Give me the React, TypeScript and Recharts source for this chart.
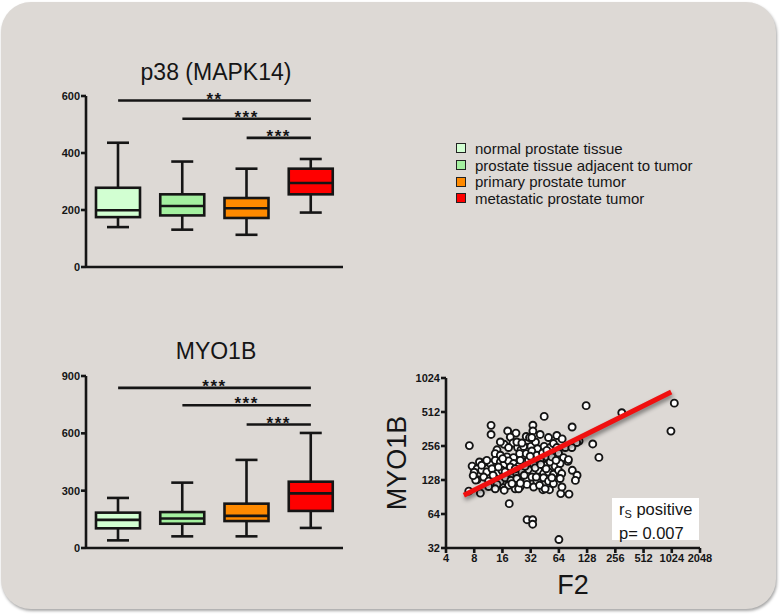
import React from "react";
import {
  ComposedChart,
  Bar,
  XAxis,
  YAxis,
  ReferenceLine,
  Legend,
  ScatterChart,
  Scatter,
} from "recharts";

const GROUPS = [
  "normal prostate tissue",
  "prostate tissue adjacent to tumor",
  "primary prostate tumor",
  "metastatic prostate tumor",
];

const GROUP_COLORS = ["#d2ffd2", "#a4f0a0", "#ff8a00", "#ff0000"];

// p38 (MAPK14) box plot: whisker min, Q1, median, Q3, whisker max
const P38_MIN = [140, 131, 113, 191];
const P38_Q1 = [175, 181, 172, 255];
const P38_MEDIAN = [199, 214, 206, 295];
const P38_Q3 = [278, 255, 242, 345];
const P38_MAX = [436, 370, 345, 379];
const P38_TICKS = [0, 200, 400, 600];
const P38_SIG = [
  { from: 0, to: 3, y: 584, stars: "**" },
  { from: 1, to: 3, y: 520, stars: "***" },
  { from: 2, to: 3, y: 453, stars: "***" },
];

// MYO1B box plot
const MYO_MIN = [40, 61, 61, 105];
const MYO_Q1 = [103, 127, 141, 194];
const MYO_MEDIAN = [147, 154, 168, 286];
const MYO_Q3 = [185, 188, 232, 347];
const MYO_MAX = [262, 342, 461, 602];
const MYO_TICKS = [0, 300, 600, 900];
const MYO_SIG = [
  { from: 0, to: 3, y: 838, stars: "***" },
  { from: 1, to: 3, y: 747, stars: "***" },
  { from: 2, to: 3, y: 646, stars: "***" },
];

// scatter: [F2, MYO1B]
const F2_MYO1B: Array<[number, number]> = [
  [7.1, 258], [7.0, 102], [7.6, 170], [9.3, 98], [12.1, 390], [12.1, 324],
  [18.9, 79], [29.3, 57], [33.6, 57], [33.6, 52], [64, 38], [44.6, 468],
  [88.6, 377], [125, 583], [300, 505], [1090, 613], [1003, 347], [147, 267],
  [171, 203], [105, 283], [99, 275], [89, 156], [100, 141], [96, 127],
  [80, 187], [67, 97], [82, 96], [69, 111], [50.8, 105], [43.2, 105],
  [18.2, 348], [22.3, 333], [19.4, 307], [28.7, 311], [31.1, 304], [33.8, 391],
  [33.8, 348], [40.4, 324], [49.6, 304], [60.8, 317], [69.3, 296],
  [16.7, 265], [14.0, 237], [20.7, 272], [23.2, 248], [25.2, 237], [29.2, 248],
  [32.2, 254], [36.0, 278], [37.9, 242], [44.6, 254], [51.6, 248], [56, 269],
  [60.8, 248], [75, 248], [88, 248],
  [13.4, 219], [15.2, 212], [17.9, 205], [21, 202], [24.4, 219], [28.7, 219],
  [32.9, 231], [37.3, 212], [42.8, 222], [47.6, 205], [56, 212], [63.4, 222],
  [71.6, 202], [80.9, 194],
  [9.1, 185], [10.5, 185], [11.9, 179], [13.4, 191], [15.2, 185], [16.4, 173],
  [18.6, 189], [21, 179], [23.8, 169], [26.9, 185], [30.4, 191], [34.4, 176],
  [40.4, 191], [45.7, 173], [51.6, 185], [58.4, 169], [66, 179],
  [8.6, 161], [9.6, 156], [10.9, 151], [12.4, 161], [14, 146], [15.8, 156],
  [17.9, 148], [20.2, 156], [22.8, 144], [25.8, 151], [30.4, 158], [34.4, 146],
  [38.8, 156], [43.9, 146], [49.6, 151], [56, 144], [63.4, 156], [68.6, 146],
  [8.6, 129], [10.1, 136], [11.4, 125], [13.4, 132], [15.2, 125], [17.1, 134],
  [19.7, 127], [22.8, 132], [25.8, 123], [29.2, 129], [32.9, 136], [37.3, 125],
  [43.9, 134], [49.6, 125], [56, 119], [66, 132],
  [11.4, 112], [14, 117], [16.4, 109], [18.6, 115], [21.9, 107], [24.8, 112],
  [29.2, 117], [34.4, 111], [39.8, 115], [45.7, 107], [13.4, 107], [16.7, 104],
  [23.8, 107], [24.8, 120],
  [9.6, 173], [10.9, 191], [12.7, 141], [14.5, 167], [16.1, 198], [17.1, 151],
  [19.4, 167], [20.2, 119], [21.9, 161], [24.8, 191], [27.3, 141], [27.9, 169],
  [31.6, 208], [35.7, 164], [36.7, 136], [41, 176], [46.8, 161], [53.8, 205],
  [53.8, 134], [59.6, 191], [47.6, 234], [26.9, 254], [22.8, 278], [18.6, 248],
  [15.2, 278], [25.8, 272], [32.9, 304], [8.3, 128], [8.0, 150], [7.8, 140],
];
const F2_TICKS = [4, 8, 16, 32, 64, 128, 256, 512, 1024, 2048];
const MYO1B_TICKS = [32, 64, 128, 256, 512, 1024];
const FIT_LINE = [
  { f2: 6.2, myo1b: 94 },
  { f2: 1010, myo1b: 770 },
];

const INK = "#151515";
const NARROW =
  "'Liberation Sans Narrow', 'Arial Narrow', 'Liberation Sans', Arial, sans-serif";
const SANS = "'Liberation Sans', Arial, Helvetica, sans-serif";
const AXIS_W = 2.6;

const tickStyle = {
  fontFamily: NARROW,
  fontSize: 11,
  fontWeight: 700,
  fill: INK,
};

function buildBoxData(
  min: number[],
  q1: number[],
  median: number[],
  q3: number[],
  max: number[]
) {
  return GROUPS.map((name, i) => ({
    name,
    color: GROUP_COLORS[i],
    min: min[i],
    q1: q1[i],
    median: median[i],
    q3: q3[i],
    max: max[i],
    range: [min[i], max[i]],
  }));
}

const p38Data = buildBoxData(P38_MIN, P38_Q1, P38_MEDIAN, P38_Q3, P38_MAX);
const myoData = buildBoxData(MYO_MIN, MYO_Q1, MYO_MEDIAN, MYO_Q3, MYO_MAX);
const scatterData = F2_MYO1B.map(([f2, myo1b]) => ({ f2, myo1b }));

// whiskers + box drawn inside the [min, max] range bar
function BoxShape(props: any) {
  const { x, y, width, height, payload } = props;
  if (!payload) return null;
  const top = Math.min(y, y + height);
  const h = Math.abs(height);
  const span = payload.max - payload.min;
  const py = (v: number) => top + ((payload.max - v) / span) * h;
  const cx = x + width / 2;
  const cap = 11;
  return (
    <g stroke={INK} strokeWidth={AXIS_W}>
      <line x1={cx} x2={cx} y1={py(payload.max)} y2={py(payload.q3)} />
      <line x1={cx} x2={cx} y1={py(payload.q1)} y2={py(payload.min)} />
      <line x1={cx - cap} x2={cx + cap} y1={py(payload.max)} y2={py(payload.max)} />
      <line x1={cx - cap} x2={cx + cap} y1={py(payload.min)} y2={py(payload.min)} />
      <rect
        x={x}
        y={py(payload.q3)}
        width={width}
        height={py(payload.q1) - py(payload.q3)}
        fill={payload.color}
      />
      <line x1={x} x2={x + width} y1={py(payload.median)} y2={py(payload.median)} />
    </g>
  );
}

function LegendBox() {
  return (
    <div style={{ fontFamily: SANS, fontSize: 15, color: INK }}>
      {GROUPS.map((g, i) => (
        <div
          key={g}
          style={{ display: "flex", alignItems: "center", height: 16.7, whiteSpace: "nowrap" }}
        >
          <span
            style={{
              display: "inline-block",
              width: 8,
              height: 8,
              border: "1px solid #222",
              background: GROUP_COLORS[i],
              marginRight: 9,
            }}
          />
          {g}
        </div>
      ))}
    </div>
  );
}

interface BoxPlotProps {
  data: ReturnType<typeof buildBoxData>;
  yMax: number;
  yTicks: number[];
  sig: { from: number; to: number; y: number; stars: string }[];
  width: number;
  marginTop: number;
  marginBottom: number;
  withLegend?: boolean;
}

function BoxPlot({ data, yMax, yTicks, sig, width, marginTop, marginBottom, withLegend }: BoxPlotProps) {
  return (
    <ComposedChart
      width={width}
      height={300}
      data={data}
      margin={{ top: marginTop, right: width - 343, bottom: marginBottom, left: 0 }}
    >
      <XAxis
        dataKey="name"
        tick={false}
        tickSize={6}
        height={30}
        axisLine={{ stroke: INK, strokeWidth: AXIS_W }}
        tickLine={{ stroke: INK, strokeWidth: AXIS_W }}
      />
      <YAxis
        type="number"
        domain={[0, yMax]}
        ticks={yTicks}
        interval={0}
        width={86}
        tickSize={5}
        tickMargin={1}
        tick={tickStyle}
        axisLine={{ stroke: INK, strokeWidth: AXIS_W }}
        tickLine={{ stroke: INK, strokeWidth: AXIS_W }}
      />
      <Bar dataKey="range" barSize={44} shape={BoxShape} isAnimationActive={false} />
      {sig.map((s) => (
        <ReferenceLine
          key={`${s.from}-${s.y}`}
          segment={[
            { x: GROUPS[s.from], y: s.y },
            { x: GROUPS[s.to], y: s.y },
          ]}
          stroke={INK}
          strokeWidth={AXIS_W}
          label={{
            value: s.stars,
            position: "top",
            offset: -4,
            fontSize: 17,
            fontWeight: 700,
            fontFamily: SANS,
            fill: INK,
            letterSpacing: 1.5,
          }}
        />
      ))}
      {withLegend && (
        <Legend
          layout="vertical"
          align="center"
          verticalAlign="middle"
          wrapperStyle={{ left: 456, top: 140, width: 300 }}
          content={() => <LegendBox />}
        />
      )}
    </ComposedChart>
  );
}

function ScatterPanel() {
  return (
    <ScatterChart width={400} height={270} margin={{ top: 38, right: 60, bottom: 12, left: 0 }}>
      <XAxis
        dataKey="f2"
        type="number"
        scale="log"
        domain={[4, 2048]}
        ticks={F2_TICKS}
        interval={0}
        height={50}
        tickSize={5}
        tickMargin={1}
        tick={tickStyle}
        axisLine={{ stroke: INK, strokeWidth: AXIS_W }}
        tickLine={{ stroke: INK, strokeWidth: AXIS_W }}
        label={{
          value: "F2",
          position: "insideBottom",
          offset: 4,
          fontFamily: SANS,
          fontSize: 27,
          fill: INK,
        }}
      />
      <YAxis
        dataKey="myo1b"
        type="number"
        scale="log"
        domain={[32, 1024]}
        ticks={MYO1B_TICKS}
        interval={0}
        width={86}
        tickSize={5}
        tickMargin={1}
        tick={tickStyle}
        axisLine={{ stroke: INK, strokeWidth: AXIS_W }}
        tickLine={{ stroke: INK, strokeWidth: AXIS_W }}
        label={(p: any) => {
          const vb = p.viewBox || { x: 0, y: 38, height: 170 };
          const lx = vb.x + 37;
          const ly = vb.y + vb.height / 2;
          return (
            <text
              x={lx}
              y={ly}
              transform={`rotate(-90, ${lx}, ${ly})`}
              textAnchor="middle"
              dominantBaseline="central"
              fontFamily={SANS}
              fontSize={27}
              fill={INK}
            >
              MYO1B
            </text>
          );
        }}
      />
      <Scatter
        data={scatterData}
        isAnimationActive={false}
        shape={(p: any) => (
          <circle cx={p.cx} cy={p.cy} r={3.5} fill="#fff" stroke={INK} strokeWidth={1.9} />
        )}
      />
      <ReferenceLine
        segment={FIT_LINE.map((d) => ({ x: d.f2, y: d.myo1b }))}
        stroke="#f01010"
        strokeWidth={5}
        isFront
        zIndex={700}
        style={{ filter: "drop-shadow(1px 3px 2px rgba(0,0,0,0.45))" }}
      />
    </ScatterChart>
  );
}

const titleStyle: React.CSSProperties = {
  position: "absolute",
  left: 116,
  width: 200,
  textAlign: "center",
  fontFamily: SANS,
  fontSize: 23,
  color: INK,
  whiteSpace: "nowrap",
};

export default function App() {
  return (
    <div
      style={{
        position: "absolute",
        left: 0,
        top: 0,
        width: 780,
        height: 615,
        background: "#fff",
        overflow: "hidden",
      }}
    >
      <div
        style={{
          position: "absolute",
          left: 1,
          top: 2,
          width: 775,
          height: 607,
          borderRadius: 30,
          background: "#ddd9d5",
          boxShadow: "1px 2px 3px rgba(0,0,0,0.35)",
        }}
      />
      <div style={{ ...titleStyle, top: 59 }}>p38 (MAPK14)</div>
      <div style={{ ...titleStyle, top: 338 }}>MYO1B</div>

      <div style={{ position: "absolute", left: 0, top: 0 }}>
        <BoxPlot
          data={p38Data}
          yMax={600}
          yTicks={P38_TICKS}
          sig={P38_SIG}
          width={780}
          marginTop={96}
          marginBottom={3}
          withLegend
        />
      </div>

      <div style={{ position: "absolute", left: 0, top: 300 }}>
        <BoxPlot
          data={myoData}
          yMax={900}
          yTicks={MYO_TICKS}
          sig={MYO_SIG}
          width={360}
          marginTop={76}
          marginBottom={22}
        />
      </div>

      <div style={{ position: "absolute", left: 360, top: 340 }}>
        <ScatterPanel />
      </div>

      <div
        style={{
          position: "absolute",
          left: 612,
          top: 498,
          width: 87,
          height: 42,
          background: "#fff",
          fontFamily: SANS,
          fontSize: 16.5,
          color: INK,
          lineHeight: "19px",
          boxSizing: "border-box",
          padding: "2px 0 0 7px",
          whiteSpace: "nowrap",
        }}
      >
        <div>
          r<sub style={{ fontSize: 11, verticalAlign: "-3px" }}>S</sub> positive
        </div>
        <div>p= 0.007</div>
      </div>
    </div>
  );
}
